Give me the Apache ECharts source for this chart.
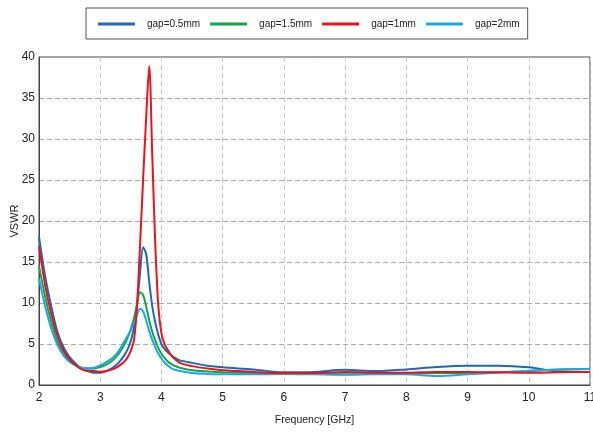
<!DOCTYPE html>
<html><head><meta charset="utf-8">
<script src="https://cdn.jsdelivr.net/npm/echarts@6/dist/echarts.min.js"></script>
<style>html,body{margin:0;padding:0;background:#fff}#c{width:593px;height:434px}</style>
</head><body><div id="c"></div>
<script>
const freq = [2.0,2.1,2.2,2.3,2.4,2.5,2.6,2.7,2.8,2.9,3.0,3.1,3.2,3.3,3.4,3.45,3.5,3.55,3.6,3.65,3.7,3.75,3.8,3.85,3.9,3.95,4.0,4.05,4.1,4.15,4.2,4.3,4.5,4.75,5.0,5.5,6.0,6.5,7.0,7.5,8.0,8.5,9.0,9.5,10.0,10.5,11.0];
const gap05 = [18.1,13.3,9.6,6.5,4.6,3.4,2.6,2.0,1.7,1.5,1.5,1.7,2.1,2.7,3.7,4.4,5.4,7.0,9.8,13.6,16.8,16.0,12.6,9.6,7.6,6.1,5.0,4.4,4.0,3.7,3.4,3.0,2.7,2.35,2.15,1.9,1.55,1.6,1.85,1.7,1.9,2.2,2.35,2.35,2.15,1.65,1.6];
const gap15 = [14.5,10.8,7.7,5.3,3.8,2.9,2.4,2.1,2.0,2.0,2.2,2.5,3.0,3.8,5.0,5.8,6.8,8.1,9.8,11.3,11.0,9.6,7.9,6.5,5.4,4.5,3.8,3.3,2.9,2.6,2.4,2.1,1.8,1.65,1.55,1.45,1.4,1.35,1.3,1.35,1.4,1.45,1.45,1.55,1.7,1.9,1.95];
const gap1 = [16.9,12.2,8.7,6.0,4.2,3.1,2.4,1.9,1.7,1.7,1.6,1.7,1.9,2.3,2.9,3.4,4.2,5.4,9.5,17,25,32.5,38.9,28,17,9.5,6.3,5.0,4.3,3.7,3.3,2.7,2.3,2.0,1.8,1.6,1.45,1.45,1.6,1.5,1.5,1.6,1.6,1.55,1.5,1.55,1.6];
const gap2 = [13.0,9.6,6.9,4.9,3.6,2.8,2.4,2.1,2.0,2.1,2.4,2.8,3.3,4.1,5.4,6.0,6.7,7.6,8.6,9.3,9.0,7.9,6.6,5.5,4.6,3.8,3.2,2.75,2.4,2.1,1.9,1.7,1.45,1.35,1.3,1.3,1.35,1.3,1.25,1.3,1.3,1.1,1.3,1.5,1.75,1.9,1.95];
const names = ['gap=0.5mm','gap=1.5mm','gap=1mm','gap=2mm'];
const colors = ['#1f68b8','#17a34a','#e8141c','#1ea7e1'];
const seriesVals = [gap05, gap15, gap1, gap2];

const chart = echarts.init(document.getElementById('c'));
const font = 'Liberation Sans, Arial, sans-serif';
chart.setOption({
  animation: false,
  textStyle: {fontFamily: font},
  legend: {
    left: 86, top: 8,
    padding: [11, 8, 10, 12],
    borderColor: '#555', borderWidth: 1,
    itemWidth: 37, itemHeight: 3, itemGap: 10,
    icon: 'rect',
    data: names,
    textStyle: {fontSize: 10, color: '#222', fontFamily: font, padding: [0,0,0,7]}
  },
  grid: {left: 39, right: 3, top: 57, bottom: 49, show: true, borderColor: '#444', borderWidth: 1, containLabel: false, outerBoundsMode: 'none'},
  xAxis: {
    type: 'value', min: 2, max: 11, interval: 1,
    name: 'Frequency [GHz]', nameLocation: 'middle', nameGap: 30, nameMoveOverlap: false,
    nameTextStyle: {fontSize: 10.5, color: '#222'},
    axisLine: {lineStyle: {color: '#444'}},
    axisTick: {show: false},
    axisLabel: {fontSize: 12, color: '#222', margin: 7},
    splitLine: {lineStyle: {color: '#c8c8c8', type: [5,3]}}
  },
  yAxis: {
    type: 'value', min: 0, max: 40, interval: 5,
    name: 'VSWR', nameLocation: 'middle', nameGap: 19, nameMoveOverlap: false,
    nameTextStyle: {fontSize: 11, color: '#222'},
    axisLine: {show: true, lineStyle: {color: '#444'}},
    axisTick: {show: false},
    axisLabel: {fontSize: 12, color: '#222', margin: 4},
    splitLine: {lineStyle: {color: '#aaa', type: [5,3]}}
  },
  series: names.map((n, i) => ({
    name: n, type: 'line', showSymbol: false, symbol: 'none',
    smooth: 0.3,
    color: colors[i],
    lineStyle: {width: 2, color: colors[i]},
    z: i === 2 ? 3 : 2,
    data: freq.map((f, k) => [f, seriesVals[i][k]])
  }))
});
</script></body></html>
